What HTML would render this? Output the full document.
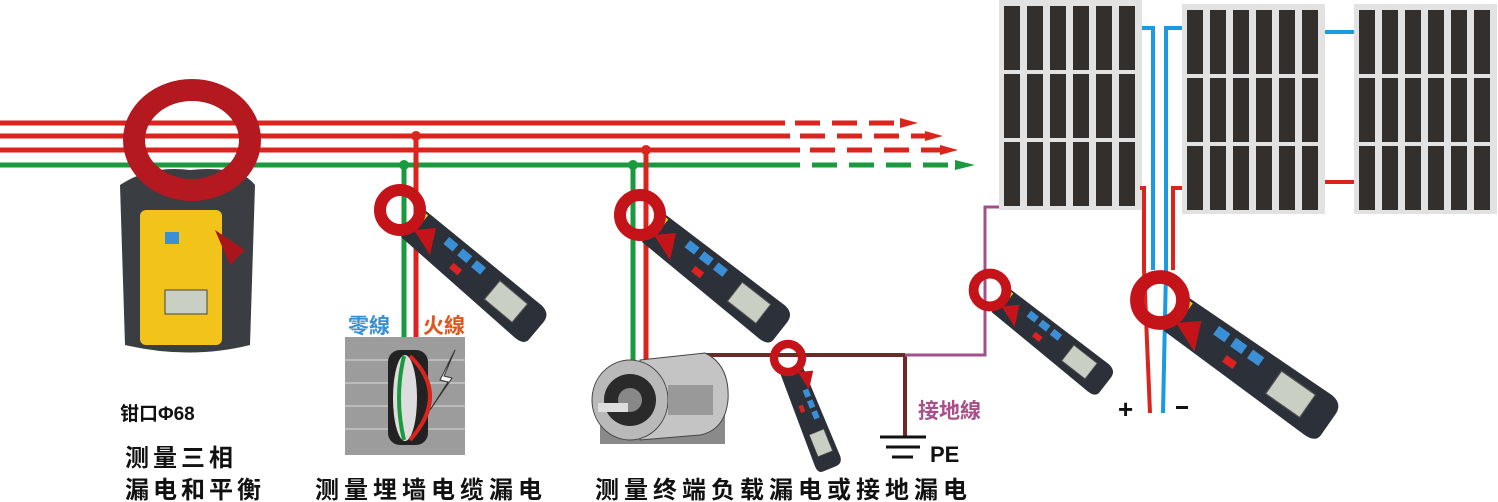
<!DOCTYPE html>
<html><head><meta charset="utf-8"><style>
html,body{margin:0;padding:0;background:#fff;width:1498px;height:502px;overflow:hidden}
svg{display:block}
text{font-family:"Liberation Sans","Noto Sans CJK SC",sans-serif;font-weight:bold}
</style></head><body>
<svg width="1498" height="502" viewBox="0 0 1498 502" xmlns="http://www.w3.org/2000/svg">
<defs>
<g id="cl">
  <path d="M18 -16 L170 -18 Q182 -17 182 -6 L182 16 Q182 24 170 24 L18 20 Z" fill="#2c3039"/>
  <rect x="55" y="-11" width="12" height="9" fill="#3a8fd6"/>
  <rect x="73" y="-11" width="12" height="9" fill="#3a8fd6"/>
  <rect x="91" y="-11" width="12" height="9" fill="#3a8fd6"/>
  <rect x="75" y="6" width="11" height="7" fill="#d22"/>
  <rect x="122" y="-10" width="36" height="24" fill="#c9cfc3" stroke="#555"/>
  <rect x="18" y="-14" width="7" height="7" fill="#f0d000"/>
</g>
<g id="ring">
  <path d="M14 20 L30 45 L36 18 Z" fill="#c4141a"/>
  <circle cx="0" cy="0" r="20" fill="none" stroke="#c4141a" stroke-width="12"/>
</g>
<g id="cells">
  <rect x="0" y="0" width="16" height="64" fill="#332f2d"/><rect x="23" y="0" width="16" height="64" fill="#332f2d"/><rect x="46" y="0" width="16" height="64" fill="#332f2d"/><rect x="69" y="0" width="16" height="64" fill="#332f2d"/><rect x="92" y="0" width="16" height="64" fill="#332f2d"/><rect x="115" y="0" width="16" height="64" fill="#332f2d"/>
</g>
<g id="panel">
  <rect x="0" y="0" width="143" height="210" fill="#e2e2e2"/>
  <use href="#cells" x="5" y="6"/><use href="#cells" x="5" y="74"/><use href="#cells" x="5" y="142"/>
</g>
</defs>

<g stroke-width="5" fill="none">
<line x1="0" y1="123" x2="785" y2="123" stroke="#d9251d"/>
<line x1="0" y1="136" x2="790" y2="136" stroke="#d9251d"/>
<line x1="0" y1="150" x2="800" y2="150" stroke="#d9251d"/>
<line x1="0" y1="165" x2="800" y2="165" stroke="#1a9a3e"/>
<line x1="795" y1="123" x2="900" y2="123" stroke="#d9251d" stroke-dasharray="25,12"/>
<line x1="800" y1="136" x2="925" y2="136" stroke="#d9251d" stroke-dasharray="25,12"/>
<line x1="810" y1="150" x2="940" y2="150" stroke="#d9251d" stroke-dasharray="25,12"/>
<line x1="812" y1="165" x2="955" y2="165" stroke="#1a9a3e" stroke-dasharray="25,12"/>
</g>
<polygon points="900,118 918,123 900,128" fill="#d9251d"/>
<polygon points="925,131 943,136 925,141" fill="#d9251d"/>
<polygon points="940,145 958,150 940,155" fill="#d9251d"/>
<polygon points="955,160 975,165 955,170" fill="#1a9a3e"/>

<line x1="404" y1="165" x2="404" y2="340" stroke="#1a9a3e" stroke-width="5"/>
<line x1="416" y1="136" x2="416" y2="340" stroke="#d9251d" stroke-width="5"/>
<circle cx="404" cy="165" r="5" fill="#1a9a3e"/><circle cx="416" cy="136" r="5" fill="#d9251d"/>
<line x1="633" y1="165" x2="633" y2="360" stroke="#1a9a3e" stroke-width="5"/>
<line x1="646" y1="150" x2="646" y2="360" stroke="#d9251d" stroke-width="5"/>
<circle cx="633" cy="165" r="5" fill="#1a9a3e"/><circle cx="646" cy="150" r="5" fill="#d9251d"/>

<line x1="700" y1="355" x2="905" y2="355" stroke="#6b2b28" stroke-width="4"/>
<line x1="905" y1="355" x2="905" y2="437" stroke="#6b2b28" stroke-width="4"/>
<polyline points="905,355 985,355 985,207 1000,207" fill="none" stroke="#a0508a" stroke-width="3"/>
<line x1="880" y1="437" x2="926" y2="437" stroke="#111" stroke-width="3"/>
<line x1="886" y1="447" x2="920" y2="447" stroke="#111" stroke-width="3"/>
<line x1="892" y1="457" x2="913" y2="457" stroke="#111" stroke-width="3"/>

<use href="#panel" x="999" y="0"/>
<use href="#panel" x="1182" y="4"/>
<use href="#panel" x="1354" y="4"/>
<g fill="none" stroke-width="4">
<polyline points="1140,188 1144,188 1144,270 1150,413" stroke="#d9251d"/>
<polyline points="1142,28 1153,28 1153,270" stroke="#1a9ae0"/>
<polyline points="1182,28 1166,28 1166,270 1163,413" stroke="#1a9ae0"/>
<polyline points="1182,188 1173,188 1173,270" stroke="#d9251d"/>
<line x1="1325" y1="32" x2="1354" y2="32" stroke="#1a9ae0"/>
<line x1="1325" y1="182" x2="1354" y2="182" stroke="#d9251d"/>
</g>

<path d="M120 185 Q150 165 190 170 Q240 165 255 185 L250 345 Q190 360 125 345 Z" fill="#3a3d42"/>
<rect x="140" y="210" width="82" height="135" rx="6" fill="#f2c31a"/>
<rect x="165" y="232" width="14" height="12" fill="#3a8fd6"/>
<rect x="165" y="290" width="42" height="24" fill="#c9cfc3" stroke="#444"/>
<path d="M215 230 L245 250 L230 265 Z" fill="#a8161c"/>
<ellipse cx="192" cy="140" rx="58" ry="50" fill="none" stroke="#b3191f" stroke-width="22"/>

<rect x="345" y="337" width="120" height="118" fill="#9c9c9c"/>
<g stroke="#bbb" stroke-width="2">
<line x1="345" y1="360" x2="465" y2="360"/><line x1="345" y1="383" x2="465" y2="383"/><line x1="345" y1="406" x2="465" y2="406"/><line x1="345" y1="429" x2="465" y2="429"/>
</g>
<rect x="388" y="350" width="40" height="95" rx="12" fill="#222"/>
<ellipse cx="405" cy="398" rx="12" ry="43" fill="#ddd"/>
<path d="M404 356 Q394 398 404 440" stroke="#1a9a3e" stroke-width="4" fill="none"/>
<path d="M410 356 Q450 395 410 440" stroke="#d9251d" stroke-width="4" fill="none"/>
<polygon points="455,350 440,380 448,382 430,410 452,378 444,376" fill="#fff" stroke="#333"/>

<rect x="600" y="412" width="125" height="32" fill="#8a8a8a"/>
<path d="M640 360 L705 353 Q730 365 728 400 Q725 430 700 435 L640 440 Z" fill="#c4c4c4" stroke="#444"/>
<ellipse cx="630" cy="400" rx="38" ry="40" fill="#b9b9b9" stroke="#444"/>
<circle cx="630" cy="400" r="26" fill="#2a2a2a"/>
<circle cx="630" cy="400" r="12" fill="#888"/>
<rect x="598" y="403" width="30" height="9" fill="#ddd"/>
<rect x="668" y="385" width="45" height="30" fill="#999"/>

<g transform="translate(400,210) rotate(40)"><use href="#cl"/></g><g transform="translate(400,210)"><use href="#ring"/></g>
<g transform="translate(640,215) rotate(38)"><use href="#cl"/></g><g transform="translate(640,215)"><use href="#ring"/></g>
<g transform="translate(990,290) scale(0.82) rotate(38)"><use href="#cl"/></g><g transform="translate(990,290) scale(0.82)"><use href="#ring"/></g>
<g transform="translate(1160,300) scale(1.15) rotate(35)"><use href="#cl"/></g><g transform="translate(1160,300) scale(1.15)"><use href="#ring"/></g>
<g transform="translate(788,358) scale(0.65) rotate(68)"><use href="#cl"/></g><g transform="translate(788,358) scale(0.7)"><use href="#ring"/></g>

<text x="120" y="420" font-size="19" fill="#111">钳口Φ68</text>
<text x="125" y="466" font-size="24" fill="#111" letter-spacing="4">测量三相</text>
<text x="125" y="498" font-size="24" fill="#111" letter-spacing="4">漏电和平衡</text>
<text x="315" y="498" font-size="24" fill="#111" letter-spacing="5">测量埋墙电缆漏电</text>
<text x="595" y="498" font-size="24" fill="#111" letter-spacing="5">测量终端负载漏电或接地漏电</text>
<text x="348" y="333" font-size="21" fill="#3a8fd0">零線</text>
<text x="423" y="333" font-size="21" fill="#e0561e">火線</text>
<text x="918" y="418" font-size="21" fill="#a8508a" font-weight="normal">接地線</text>
<text x="930" y="462" font-size="22" fill="#111" font-weight="normal">PE</text>
<text x="1118" y="418" font-size="26" fill="#111" font-weight="normal">+</text>
<rect x="1176" y="406" width="12" height="3" fill="#111"/>
</svg>
</body></html>
